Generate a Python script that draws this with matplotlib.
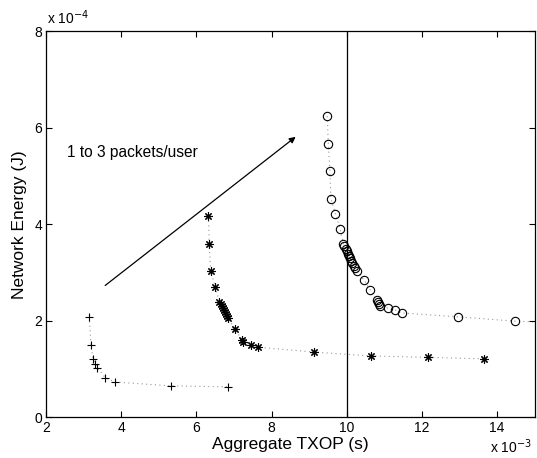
import matplotlib
matplotlib.use("Agg")
import matplotlib.pyplot as plt
import numpy as np

plt.rcParams['font.family'] = ['Liberation Sans', 'DejaVu Sans']

# Data in displayed units: x in 1e-3 s, y in 1e-4 J
x_plus = [3.15, 3.19, 3.25, 3.30, 3.36, 3.57, 3.82, 5.32, 6.84]
y_plus = [2.08, 1.50, 1.20, 1.10, 1.03, 0.82, 0.73, 0.65, 0.63]

x_star = [6.32, 6.34, 6.38, 6.50, 6.61, 6.64, 6.67, 6.70, 6.73, 6.76, 6.79, 6.82, 6.85,
          7.02, 7.21, 7.25, 7.46, 7.65, 9.14, 10.64, 12.16, 13.66]
y_star = [4.16, 3.59, 3.02, 2.70, 2.39, 2.34, 2.30, 2.26, 2.22, 2.18, 2.14, 2.10, 2.05,
          1.83, 1.61, 1.56, 1.50, 1.45, 1.35, 1.27, 1.24, 1.21]

x_circ = [9.48, 9.51, 9.55, 9.58, 9.70, 9.82, 9.91, 9.94, 9.97, 10.00, 10.03, 10.06, 10.09,
          10.12, 10.15, 10.19, 10.23, 10.27, 10.46, 10.62, 10.80, 10.83, 10.86, 10.89,
          11.10, 11.29, 11.47, 12.97, 14.49, 16.0]
y_circ = [6.24, 5.67, 5.10, 4.53, 4.21, 3.91, 3.59, 3.54, 3.49, 3.44, 3.39, 3.34, 3.29,
          3.24, 3.19, 3.14, 3.09, 3.04, 2.84, 2.64, 2.43, 2.39, 2.34, 2.30,
          2.26, 2.22, 2.16, 2.08, 1.99, 1.95]

x_ticks = [2, 4, 6, 8, 10, 12, 14]
y_ticks = [0, 2, 4, 6, 8]
vline_x = 10
arrow_start = (3.57, 2.73)
arrow_end = (8.64, 5.81)
annot_text = "1 to 3 packets/user"

fig = plt.figure(figsize=(5.37, 4.58), dpi=100)
ax = fig.add_axes([0.086, 0.089, 0.9095, 0.843])

line_kw = dict(color='#999999', linestyle=(0, (1, 3)), linewidth=0.8, zorder=1)
ax.plot(x_plus, y_plus, **line_kw)
ax.plot(x_star, y_star, **line_kw)
ax.plot(x_circ, y_circ, **line_kw)

ax.plot(x_plus, y_plus, linestyle='none', marker='+', markersize=6,
        markeredgecolor='black', markeredgewidth=0.8, zorder=3)
ax.plot(x_star, y_star, linestyle='none', marker=(8, 2, 0), markersize=6,
        markeredgecolor='black', markeredgewidth=0.8, zorder=3)
ax.plot(x_circ, y_circ, linestyle='none', marker='o', markersize=6,
        markerfacecolor='none', markeredgecolor='black', markeredgewidth=0.8, zorder=3)

ax.axvline(vline_x, color='black', linewidth=0.9, zorder=2)

ax.annotate('', xy=arrow_end, xytext=arrow_start,
            arrowprops=dict(arrowstyle='-|>', color='black', lw=0.9,
                            mutation_scale=9, shrinkA=0, shrinkB=0))
ax.text(2.55, 5.48, annot_text, fontsize=11.2, va='center', ha='left')

ax.set_xlim(2, 15)
ax.set_ylim(0, 8)
ax.set_xticks(x_ticks)
ax.set_yticks(y_ticks)
ax.set_xticklabels([str(v) for v in x_ticks])
ax.set_yticklabels([str(v) for v in y_ticks])
ax.tick_params(direction='in', top=True, right=True, length=4, width=0.8,
               labelsize=10, pad=3)
for s in ax.spines.values():
    s.set_linewidth(0.9)

ax.set_xlabel('Aggregate TXOP (s)', fontsize=12.5, labelpad=1)
ax.set_ylabel('Network Energy (J)', fontsize=12.5, labelpad=5)

fig.text(0.088, 0.942, r'x 10$^{-4}$', fontsize=10, ha='left', va='bottom')
fig.text(0.913, 0.004, r'x 10$^{-3}$', fontsize=10, ha='left', va='bottom')

fig.savefig('out.png', dpi=100)
